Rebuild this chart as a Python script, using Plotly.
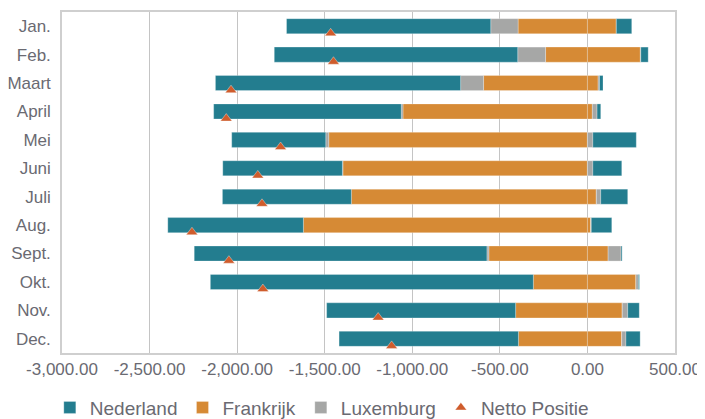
import plotly.graph_objects as go

# maanden, van boven naar onder
months = ["Jan.", "Feb.", "Maart", "April", "Mei", "Juni", "Juli", "Aug.",
          "Sept.", "Okt.", "Nov.", "Dec."]

# per land een negatief en een positief deel
nederland_neg = [-1166, -1390, -1400, -1071, -537, -683, -736, -774, -1671, -1844, -1079, -1024]
nederland_pos = [88, 42, 20, 21, 248, 165, 154, 117, 6, 6, 66, 81]
frankrijk_neg = [-396, -239, -593, -1053, -1477, -1396, -1348, -1622, -563, -309, -410, -394]
frankrijk_pos = [165, 302, 61, 28, 0, 0, 51, 19, 118, 277, 199, 196]
luxemburg_neg = [-156, -159, -131, -10, -17, -3, 0, 0, -11, 0, 0, 0]
luxemburg_pos = [0, 3, 8, 27, 31, 31, 25, 3, 74, 14, 31, 24]
netto_positie = [-1466, -1450, -2035, -2062, -1752, -1882, -1858, -2258, -2047, -1853, -1195, -1118]

x_ticks = [-3000, -2500, -2000, -1500, -1000, -500, 0, 500]
x_labels = ["{:,.2f}".format(v) for v in x_ticks]

TEAL = "#237d8f"
ORANGE = "#d68a35"
GREY = "#a6a7a6"
RED = "#cf5c2c"
TEXT = "#6a6a72"
FONT = "Liberation Sans"

fig = go.Figure()

# stapelvolgorde vanaf nul: Frankrijk, Luxemburg, Nederland
series = [
    ("Frankrijk", frankrijk_neg, frankrijk_pos, ORANGE, 2),
    ("Luxemburg", luxemburg_neg, luxemburg_pos, GREY, 3),
    ("Nederland", nederland_neg, nederland_pos, TEAL, 1),
]
for name, neg, pos, color, rank in series:
    for i, vals in enumerate([neg, pos]):
        fig.add_trace(go.Bar(
            y=months, x=vals, orientation="h", name=name,
            legendgroup=name, showlegend=(i == 0), legendrank=rank,
            marker=dict(color=color, line=dict(color="rgba(255,255,255,0.45)", width=0.6)),
        ))

fig.add_trace(go.Scatter(
    y=months, x=netto_positie, mode="markers", name="Netto Positie",
    yaxis="y2", legendrank=4,
    marker=dict(symbol="triangle-up", size=10, color=RED,
                line=dict(color="rgba(255,255,255,0.6)", width=0.6)),
))

# de pagina heeft 8px body-marge, dus figuur iets kleiner
fig.update_layout(
    width=697, height=411,
    margin=dict(l=54, r=30, t=4, b=66),
    paper_bgcolor="white", plot_bgcolor="white",
    barmode="relative", bargap=0.47,
    font=dict(family=FONT, size=17, color=TEXT),
    xaxis=dict(
        range=[-3000, 500], tickvals=x_ticks, ticktext=x_labels,
        showgrid=True, gridcolor="#c4c4c4", gridwidth=1, automargin=False,
        zeroline=False, showline=True, linecolor="#cfcfcf", linewidth=1.5,
        mirror=True, ticks="", tickfont=dict(size=17, color=TEXT),
    ),
    yaxis=dict(
        type="category", categoryarray=months, range=[11.5, -0.5],
        showgrid=False, zeroline=False, showline=True, linecolor="#cfcfcf",
        linewidth=1.5, mirror=True, ticks="", ticklabelstandoff=6,
        tickfont=dict(size=17, color=TEXT), automargin=False,
    ),
    # markers iets onder het midden van de balk
    yaxis2=dict(
        type="category", categoryarray=months, range=[11.25, -0.75],
        overlaying="y", showticklabels=False, showgrid=False,
        zeroline=False, showline=False, ticks="", automargin=False,
    ),
    # verticale as bij nul met streepjes tussen de maanden
    yaxis3=dict(
        type="linear", range=[12, 0], tick0=0, dtick=1,
        overlaying="y", anchor="free", position=3000 / 3500,
        showticklabels=False, showgrid=False, zeroline=False,
        showline=True, linecolor="#b3b3b3", linewidth=1.2, automargin=False,
        ticks="outside", ticklen=3, tickcolor="#b3b3b3",
    ),
    legend=dict(
        orientation="h", xref="container", yref="container",
        x=0.06, y=0.074, xanchor="left", yanchor="top",
        font=dict(size=19, color=TEXT), itemwidth=30,
        traceorder="normal",
    ),
    showlegend=True,
)

fig.write_html("out.html")
